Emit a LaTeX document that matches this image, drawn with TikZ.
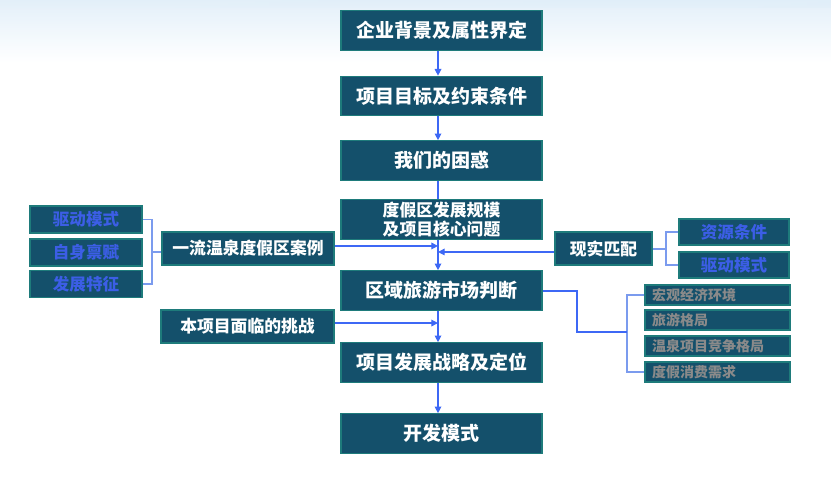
\documentclass[tikz,border=0pt]{standalone}
\usepackage{fontspec}
\setmainfont{Noto Sans CJK SC}
\usetikzlibrary{arrows.meta}
\definecolor{boxfill}{HTML}{14506B}
\definecolor{boxedge}{HTML}{1E7B7B}
\definecolor{linkblue}{HTML}{3D68F5}
\definecolor{brk}{HTML}{7B9BEE}
\definecolor{txtblue}{HTML}{3C5EE6}
\definecolor{txtgray}{HTML}{8A8A8A}
\definecolor{skytop}{HTML}{E0EEF9}
\begin{document}
\begin{tikzpicture}[x=0.75pt,y=-0.75pt,
  box/.style={draw=boxedge, line width=0.9pt, fill=boxfill, text=white, inner sep=0pt, align=center},
  mainbox/.style={box, minimum width=150.75pt, minimum height=29.6pt, font=\fontsize{14.25}{17}\selectfont\bfseries},
  mainsmall/.style={mainbox, font=\fontsize{12.6}{14.5}\selectfont\bfseries},
  sidebox/.style={box, minimum height=24.75pt, font=\fontsize{12.6}{15}\selectfont\bfseries},
  bluebox/.style={box, text=txtblue, minimum height=20.25pt, font=\fontsize{12.4}{15}\selectfont\bfseries},
  graybox/.style={box, text=txtgray, minimum width=108.75pt, minimum height=15pt, text width=98pt, align=left, font=\fontsize{10.5}{12}\selectfont\bfseries},
  link/.style={draw=linkblue, line width=0.9pt},
  arr/.style={link, -{Triangle[length=5pt,width=5pt]}},
  bracket/.style={draw=brk, line width=1.2pt}
]
\useasboundingbox (0,0) rectangle (831,503);
\shade[left color=white, right color=skytop] (0,0) rectangle (831,8);
\shade[top color=skytop, bottom color=white, opacity=0.9] (0,0) rectangle (831,62);

% main column
\node[mainbox] (b1) at (441.5,30.5) {企业背景及属性界定};
\node[mainbox] (b2) at (441.5,96) {项目目标及约束条件};
\node[mainbox] (b3) at (441.5,160.5) {我们的困惑};
\node[mainsmall] (b4) at (441.5,219.5) {度假区发展规模\\及项目核心问题};
\node[mainbox] (b5) at (441.5,290.5) {区域旅游市场判断};
\node[mainbox] (b6) at (441.5,362.5) {项目发展战略及定位};
\node[mainbox] (b7) at (441.5,433.5) {开发模式};

% left side
\node[bluebox, minimum width=84pt] (l1) at (86,219.5) {驱动模式};
\node[bluebox, minimum width=84pt] (l2) at (86,252.5) {自身禀赋};
\node[bluebox, minimum width=84pt] (l3) at (86,284) {发展特征};
\node[sidebox, minimum width=129pt] (case) at (248,248.5) {一流温泉度假区案例};
\node[sidebox, minimum width=129.75pt] (chal) at (247.5,326.5) {本项目面临的挑战};

% right side
\node[sidebox, minimum width=72.75pt] (match) at (603.5,248.5) {现实匹配};
\node[bluebox, minimum width=82.5pt, minimum height=19.5pt] (r1) at (734,232) {资源条件};
\node[bluebox, minimum width=82.5pt, minimum height=19.5pt] (r2) at (734,265) {驱动模式};
\node[graybox] (g1) at (717.5,295) {宏观经济环境};
\node[graybox] (g2) at (717.5,320) {旅游格局};
\node[graybox] (g3) at (717.5,346) {温泉项目竞争格局};
\node[graybox] (g4) at (717.5,372) {度假消费需求};

% helper coordinates
\coordinate (mx) at (438,0);
\coordinate (lbx) at (152,252);
\coordinate (rbx) at (666,249);
\coordinate (gbx) at (627,332);
\coordinate (gturn) at (577,291);

% main flow
\draw[arr] (b1.south -| mx) -- (b2.north -| mx);
\draw[arr] (b2.south -| mx) -- (b3.north -| mx);
\draw[link] (b3.south -| mx) -- (b4.north -| mx);
\draw[arr] (b4.south -| mx) -- (b5.north -| mx);
\draw[arr] (b5.south -| mx) -- (b6.north -| mx);
\draw[arr] (b6.south -| mx) -- (b7.north -| mx);

% side arrows into main flow
\draw[arr] ([yshift=1.9pt]case.east) -- ([yshift=1.9pt]case.east -| mx);
\draw[arr] ([yshift=-2.6pt]match.west) -- ([yshift=-2.6pt]match.west -| mx);
\draw[arr] ([yshift=2.6pt]chal.east) -- ([yshift=2.6pt]chal.east -| mx);

% brackets
\draw[bracket] (l1.east) -| (lbx) |- (l3.east);
\draw[bracket] (lbx) -- (lbx -| case.west);
\draw[bracket] (r1.west) -| (rbx) |- (r2.west);
\draw[bracket] (match.east |- rbx) -- (rbx);
\draw[bracket] (g1.west) -| (gbx) |- (g4.west);
\draw[link] (b5.east |- gturn) -- (gturn) |- (gbx);
\end{tikzpicture}
\end{document}
